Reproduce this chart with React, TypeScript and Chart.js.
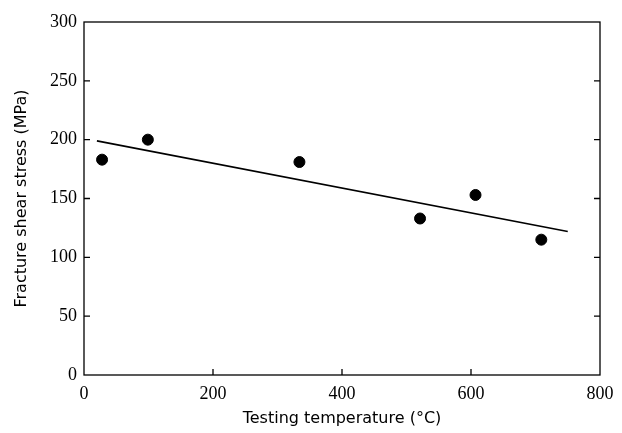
import React, { useEffect, useRef } from "react";
import { Chart, registerables } from "chart.js";

Chart.register(...registerables);

const temperatures = [28, 99, 334, 521, 607, 709];
const shearStress = [183, 200, 181, 133, 153, 115];
const fitX = [20, 750];
const fitY = [199, 122];
const xTicks = [0, 200, 400, 600, 800];
const yTicks = [0, 50, 100, 150, 200, 250, 300];

const frame = {
  id: "frame",
  afterDraw(chart: any) {
    const { ctx, chartArea: a, scales } = chart;
    ctx.save();
    ctx.strokeStyle = "#000";
    ctx.lineWidth = 1.3;
    ctx.strokeRect(a.left, a.top, a.right - a.left, a.bottom - a.top);
    ctx.beginPath();
    for (const v of yTicks) {
      if (v === 0 || v === 300) continue;
      const y = scales.y.getPixelForValue(v);
      ctx.moveTo(a.left, y);
      ctx.lineTo(a.left + 6, y);
      ctx.moveTo(a.right, y);
      ctx.lineTo(a.right - 6, y);
    }
    for (const v of xTicks) {
      if (v === 0 || v === 800) continue;
      const x = scales.x.getPixelForValue(v);
      ctx.moveTo(x, a.bottom);
      ctx.lineTo(x, a.bottom - 6);
    }
    ctx.stroke();
    ctx.restore();
  },
};

export default function App() {
  const ref = useRef<HTMLCanvasElement>(null);
  useEffect(() => {
    const chart = new Chart(ref.current!, {
      type: "scatter",
      data: {
        datasets: [
          {
            data: temperatures.map((x, i) => ({ x, y: shearStress[i] })),
            pointRadius: 5.5,
            pointBackgroundColor: "#000",
            pointBorderColor: "#000",
            showLine: false,
          },
          {
            data: fitX.map((x, i) => ({ x, y: fitY[i] })),
            showLine: true,
            pointRadius: 0,
            borderColor: "#000",
            borderWidth: 1.6,
          },
        ],
      },
      options: {
        animation: false,
        responsive: false,
        layout: { padding: { left: 0, right: 22, top: 22, bottom: 0 } },
        plugins: { legend: { display: false }, tooltip: { enabled: false } },
        scales: {
          x: {
            type: "linear",
            min: 0,
            max: 800,
            afterBuildTicks: (s: any) => {
              s.ticks = xTicks.map((v) => ({ value: v }));
            },
            afterFit: (s: any) => {
              s.height = 58;
            },
            grid: { display: false, drawTicks: false },
            border: { display: false },
            ticks: {
              padding: 8,
              color: "#000",
              font: { family: "Liberation Serif", size: 18 },
            },
            title: {
              display: true,
              text: "Testing temperature (°C)",
              color: "#000",
              font: { family: "DejaVu Sans", size: 16 },
              padding: { top: 0, bottom: 5 },
            },
          },
          y: {
            type: "linear",
            min: 0,
            max: 300,
            afterBuildTicks: (s: any) => {
              s.ticks = yTicks.map((v) => ({ value: v }));
            },
            afterFit: (s: any) => {
              s.width = 84;
            },
            grid: { display: false, drawTicks: false },
            border: { display: false },
            ticks: {
              padding: 7,
              color: "#000",
              font: { family: "Liberation Serif", size: 18 },
            },
            title: {
              display: true,
              text: "Fracture shear stress (MPa)",
              color: "#000",
              font: { family: "DejaVu Sans", size: 16 },
              padding: { top: 12, bottom: 0 },
            },
          },
        },
      },
      plugins: [frame],
    });
    return () => chart.destroy();
  }, []);
  return (
    <div style={{ position: "fixed", left: 0, top: 0, width: 622, height: 433, background: "#fff" }}>
      <canvas ref={ref} width={622} height={433} />
    </div>
  );
}
